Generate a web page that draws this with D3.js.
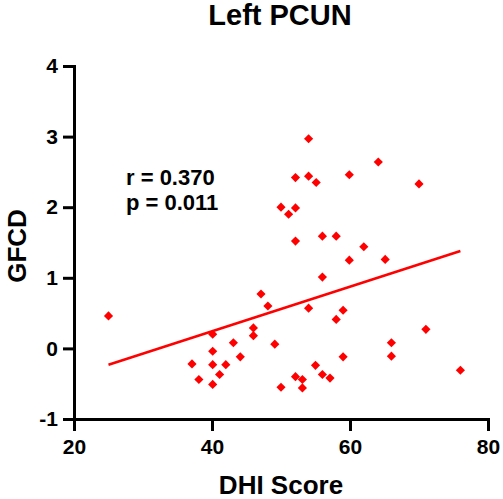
<!DOCTYPE html>
<html><head><meta charset="utf-8">
<script src="https://cdn.jsdelivr.net/npm/d3@7"></script>
<style>body{margin:0;background:#fff;} svg{display:block;font-family:"Liberation Sans",Arial,sans-serif;}</style>
</head><body>
<script>
const dhiScore = [25,37.1,38.1,40.1,40.1,40.1,40.1,41.1,42,43.1,44.1,46,46,47.1,48.1,49.1,50,50,51.1,52.1,52.1,52.1,52.1,53.1,53.1,54,54,55.1,54,55,56,56,56,57.1,58,58,59,59,59.9,59.9,62,64.1,65.1,66,66,70,71,76];
const gfcd = [0.46,-0.22,-0.44,0.20,-0.04,-0.23,-0.51,-0.37,-0.23,0.08,-0.12,0.29,0.18,0.77,0.60,0.06,-0.55,2.00,1.90,1.99,2.42,1.52,-0.40,-0.44,-0.56,2.97,2.44,2.35,0.57,-0.24,1.59,1.01,-0.37,-0.42,1.59,0.41,0.54,-0.12,2.46,1.25,1.44,2.64,1.26,0.08,-0.11,2.33,0.27,-0.31];
const fitX = [25, 76];
const fitY = [-0.23, 1.38];
const xTicks = [20, 40, 60, 80];
const yTicks = [-1, 0, 1, 2, 3, 4];
const title = "Left PCUN";
const xLabel = "DHI Score";
const yLabel = "GFCD";
const statLines = ["r = 0.370", "p = 0.011"];

const W = 503, H = 499;
const svg = d3.select("body").append("svg").attr("width", W).attr("height", H);
const x = d3.scaleLinear().domain([20, 80]).range([74, 488]);
const y = d3.scaleLinear().domain([-1, 4]).range([419, 66]);

function styleAxis(g){
  g.select(".domain").attr("stroke","#000").attr("stroke-width",3).attr("stroke-linecap","square");
  g.selectAll(".tick line").attr("stroke","#000").attr("stroke-width",3);
  g.selectAll(".tick text").attr("fill","#000").attr("font-size","21px").attr("font-weight","bold")
    .attr("font-family","'Liberation Sans',Arial,sans-serif");
}
const fmt = d => String(d);
const gx = svg.append("g").attr("transform",`translate(0,${y(-1)})`)
  .call(d3.axisBottom(x).tickValues(xTicks).tickFormat(fmt).tickSize(12).tickSizeOuter(0).tickPadding(8));
styleAxis(gx);
const gy = svg.append("g").attr("transform",`translate(${x(20)},0)`)
  .call(d3.axisLeft(y).tickValues(yTicks).tickFormat(fmt).tickSize(11).tickSizeOuter(0).tickPadding(5));
styleAxis(gy);

const line = d3.line().x(d=>x(d[0])).y(d=>y(d[1]));
svg.append("path").datum(fitX.map((v,i)=>[v,fitY[i]])).attr("d",line)
  .attr("stroke","#ff0000").attr("stroke-width",2.6).attr("fill","none");

const sym = d3.symbol().type(d3.symbolSquare).size(42);
svg.append("g").selectAll("path").data(dhiScore.map((v,i)=>[v,gfcd[i]])).join("path")
  .attr("d", sym).attr("fill","#ff0000")
  .attr("transform", d=>`translate(${x(d[0])},${y(d[1])}) rotate(45)`);

svg.append("text").attr("x",280).attr("y",25).attr("text-anchor","middle")
  .attr("font-size","29px").attr("font-weight","bold").text(title);
svg.append("text").attr("x",281).attr("y",494).attr("text-anchor","middle")
  .attr("font-size","26px").attr("font-weight","bold").text(xLabel);
svg.append("text").attr("transform","translate(26,246) rotate(-90)").attr("text-anchor","middle")
  .attr("font-size","26px").attr("font-weight","bold").text(yLabel);
svg.append("g").selectAll("text").data(statLines).join("text")
  .attr("x",126).attr("y",(d,i)=>185+i*25).attr("font-size","22px").attr("font-weight","bold").text(d=>d);
</script>
</body></html>
